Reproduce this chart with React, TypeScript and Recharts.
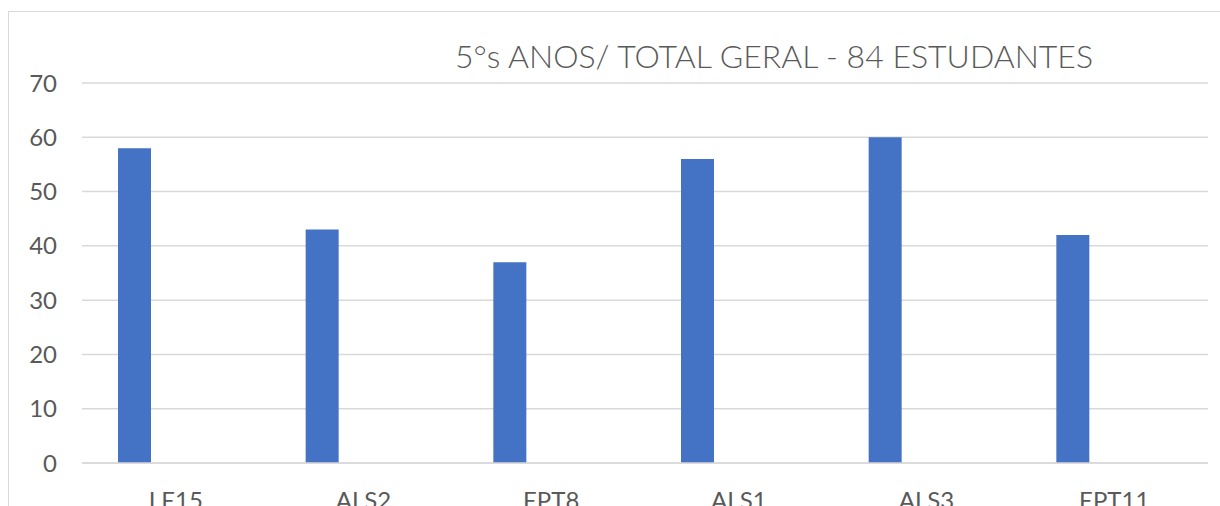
import React from 'react';
import { BarChart, Bar, XAxis, YAxis, CartesianGrid } from 'recharts';

const categories = ['LE15', 'ALS2', 'EPT8', 'ALS1', 'ALS3', 'EPT11'];
const totals = [58, 43, 37, 56, 60, 42];
const seriesB = [0, 0, 0, 0, 0, 0];
const seriesC = [0, 0, 0, 0, 0, 0];
const yTicks = [0, 10, 20, 30, 40, 50, 60, 70];
const title = '5°s ANOS/ TOTAL GERAL - 84 ESTUDANTES';

const data = categories.map((c, i) => ({ name: c, a: totals[i], b: seriesB[i], c: seriesC[i] }));

const FONT = 'Lato, "Open Sans", sans-serif';
const TEXT = '#595959';
const GRID = '#d9d9d9';
const BLUE = '#4472C4';

export default function App() {
  return (
    <div style={{ position: 'absolute', left: 0, top: 0, width: 1220, height: 506, overflow: 'hidden', background: '#fff' }}>
      <div style={{ position: 'absolute', left: 8, top: 11, width: 1400, height: 700, border: `1px solid ${GRID}`, boxSizing: 'border-box' }} />
      <div style={{ position: 'absolute', left: 455, top: 36, fontFamily: FONT, fontWeight: 300, fontSize: 32, color: TEXT, whiteSpace: 'nowrap', lineHeight: '40px' }}>
        {title}
      </div>
      <div style={{ position: 'absolute', left: 0, top: 0 }}>
        <BarChart width={1220} height={506} data={data} margin={{ top: 83, right: 12, bottom: 0, left: 0 }} barGap={8}>
          <CartesianGrid vertical={false} stroke={GRID} strokeWidth={1.5} />
          <XAxis
            dataKey="name"
            axisLine={{ stroke: GRID, strokeWidth: 1.5 }}
            tickLine={false}
            tickSize={0}
            tickMargin={29}
            height={43}
            interval={0}
            tick={{ fill: TEXT, fontSize: 24, fontFamily: FONT }}
          />
          <YAxis
            domain={[0, 70]}
            ticks={yTicks}
            width={82}
            axisLine={false}
            tickLine={false}
            tickSize={0}
            tickMargin={25}
            interval={0}
            tick={{ fill: TEXT, fontSize: 24, fontFamily: FONT }}
          />
          <Bar dataKey="a" fill={BLUE} barSize={33} isAnimationActive={false} />
          <Bar dataKey="b" fill={BLUE} barSize={33} isAnimationActive={false} />
          <Bar dataKey="c" fill={BLUE} barSize={33} isAnimationActive={false} />
        </BarChart>
      </div>
    </div>
  );
}
